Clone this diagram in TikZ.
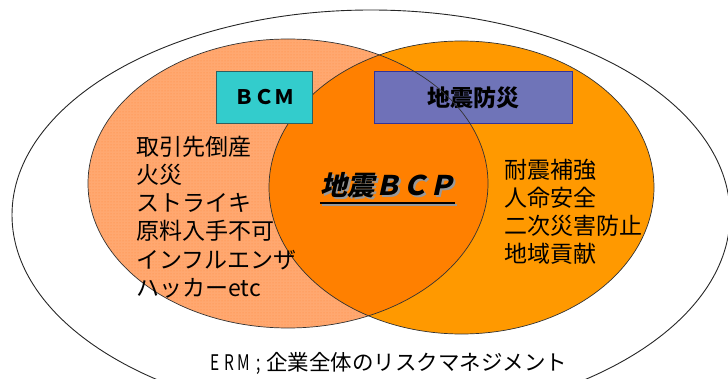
\documentclass[tikz,border=0pt]{standalone}
\usepackage{fontspec}
\usepackage{graphicx}
\usetikzlibrary{patterns}
\newfontfamily\jp{Noto Sans CJK JP}
\newfontfamily\jpsl{Noto Sans CJK JP}[FakeSlant=0.22]
\definecolor{bcmsalmon}{HTML}{FFA870}
\definecolor{bcmdot}{HTML}{FF8A40}
\definecolor{inter}{HTML}{FF8000}
\definecolor{bosai}{HTML}{FF9900}
\definecolor{teal}{HTML}{33CCCC}
\definecolor{tealedge}{HTML}{2F5F5F}
\definecolor{bluebox}{HTML}{6070CC}
\definecolor{blueedge}{HTML}{333399}
\definecolor{circedge}{HTML}{333333}
\tikzset{
  listtext/.style={font=\jp\fontsize{23}{28.3}\selectfont, align=left, anchor=north west, inner sep=0pt, text=black},
  labelbox/.style={minimum width=#1, minimum height=52pt, inner sep=0pt, line width=0.8pt},
  circline/.style={draw=circedge, line width=0.7pt},
}
\newcommand{\ermch}[1]{\makebox[14.5pt]{\scalebox{0.72}[1]{#1}}}
\begin{document}
\begin{tikzpicture}[x=1pt,y=-1pt]
\useasboundingbox (0,0) rectangle (728,379);
% outer ellipse
\draw[line width=0.9pt, draw=black!85] (371,215) ellipse [x radius=359pt, y radius=205pt];
% left circle (BCM)
\fill[bcmsalmon] (288,183.5) ellipse [x radius=200pt, y radius=144.5pt];
\fill[pattern=dots, pattern color=bcmdot] (288,183.5) ellipse [x radius=200pt, y radius=144.5pt];
% right circle
\fill[bosai] (461.5,187.5) ellipse [x radius=192.5pt, y radius=146.5pt];
% intersection
\begin{scope}
  \clip (288,183.5) ellipse [x radius=200pt, y radius=144.5pt];
  \fill[inter] (461.5,187.5) ellipse [x radius=192.5pt, y radius=146.5pt];
\end{scope}
\draw[circline] (461.5,187.5) ellipse [x radius=192.5pt, y radius=146.5pt];
% boxes
\node[labelbox=96pt, fill=teal, draw=tealedge] (bcm) at (264,97)
  {\jp\bfseries\fontsize{20}{20}\selectfont ＢＣＭ};
\node[labelbox=198pt, fill=bluebox, fill opacity=0.9, text opacity=1, draw=blueedge] (bosaibox) at (473,97.5)
  {\jp\bfseries\fontsize{23}{23}\selectfont 地震防災};
\draw[circline] (288,183.5) ellipse [x radius=200pt, y radius=144.5pt];
% lists
\node[listtext] (leftlist) at (136,135.5)
  {取引先倒産\\火災\\ストライキ\\原料入手不可\\インフルエンザ\\ハッカーetc};
\node[listtext] (rightlist) at (504,158.5)
  {耐震補強\\人命安全\\二次災害防止\\地域貢献};
% centre title with shadow
\node[inner sep=0pt, anchor=base, text=black, font=\jpsl\bfseries\fontsize{27}{27}\selectfont] (bcp) at (387.5,195.3)
  {\rlap{\raisebox{-2pt}{\kern2pt\textcolor{black!40}{地震ＢＣＰ}}}地震ＢＣＰ};
\draw[black!40, line width=1.5pt] ([shift={(2pt,-9.7pt)}]bcp.base west) -- ([shift={(2pt,-9.7pt)}]bcp.base east);
\draw[black, line width=1.5pt] ([yshift=-7.7pt]bcp.base west) -- ([yshift=-7.7pt]bcp.base east);
% ERM caption
\node[inner sep=0pt, font=\jp\fontsize{21.5}{21.5}\selectfont] (erm) at (387.5,363)
  {\ermch{E}\ermch{R}\ermch{M}\ermch{;}企業全体のリスクマネジメント};
\end{tikzpicture}
\end{document}
